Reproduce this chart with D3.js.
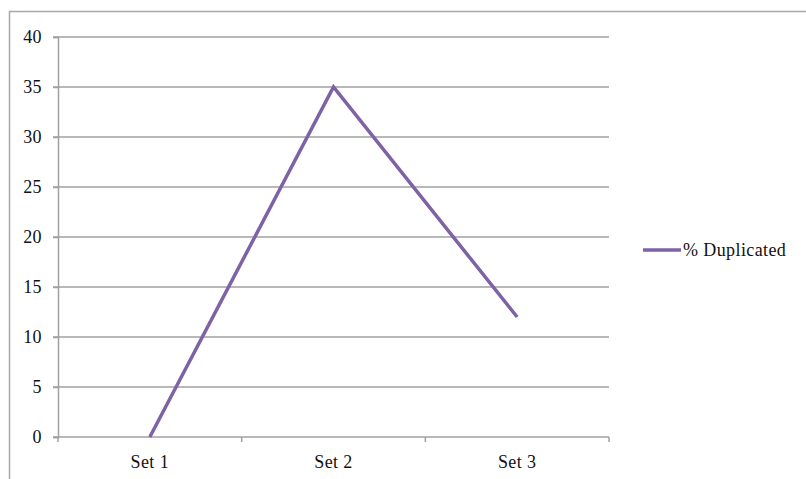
<!DOCTYPE html>
<html>
<head>
<meta charset="utf-8">
<script src="https://cdn.jsdelivr.net/npm/d3@7"></script>
<style>
  html, body { margin: 0; padding: 0; background: #fff; }
  svg { display: block; }
  text { font-family: "Liberation Serif", "DejaVu Serif", serif; fill: #111; letter-spacing: 0.4px; }
</style>
</head>
<body>
<svg id="chart" width="806" height="479"></svg>
<script>
// Series and axis definitions
const categories = ["Set 1", "Set 2", "Set 3"];
const duplicatedPct = [0, 35, 12];
const seriesName = "% Duplicated";
const yTicks = [0, 5, 10, 15, 20, 25, 30, 35, 40];

const svg = d3.select("#chart");
const W = 806, H = 479;
const margin = { left: 58, right: 197, top: 37, bottom: 42 };
const plotW = W - margin.left - margin.right;
const plotH = H - margin.top - margin.bottom;

const gridColor = "#a0a0a0";
const lineColor = "#7e62a6";
const fontSize = "18px";

// Outer frame
svg.append("rect")
  .attr("x", 9.5).attr("y", 11.5)
  .attr("width", W + 10).attr("height", H + 10)
  .attr("fill", "none").attr("stroke", "#a8a8a8").attr("stroke-width", 1.5);

const g = svg.append("g").attr("transform", `translate(${margin.left},${margin.top})`);

const x = d3.scaleBand().domain(categories).range([0, plotW]);
const y = d3.scaleLinear().domain([0, 40]).range([plotH, 0]);

// Horizontal gridlines
g.append("g").selectAll("line").data(yTicks.filter(d => d > 0)).join("line")
  .attr("x1", -5).attr("x2", plotW)
  .attr("y1", d => y(d)).attr("y2", d => y(d))
  .attr("stroke", gridColor).attr("stroke-width", 1.5);

// Y axis
const yAxis = g.append("g")
  .call(d3.axisLeft(y).tickValues(yTicks).tickSize(5).tickPadding(11));
yAxis.select(".domain").attr("stroke", gridColor).attr("stroke-width", 1.5);
yAxis.selectAll(".tick line").attr("stroke", gridColor).attr("stroke-width", 1.5);
yAxis.selectAll("text").style("font-size", fontSize).attr("fill", "#111")
  .attr("font-family", null);

// X axis with ticks at band boundaries
const xAxisG = g.append("g").attr("transform", `translate(0,${plotH})`);
xAxisG.append("line")
  .attr("x1", -5).attr("x2", plotW)
  .attr("stroke", gridColor).attr("stroke-width", 1.5);
const bounds = categories.map(c => x(c)).concat([plotW]);
xAxisG.selectAll("line.tk").data(bounds).join("line").attr("class", "tk")
  .attr("x1", d => d).attr("x2", d => d).attr("y1", 0).attr("y2", 5)
  .attr("stroke", gridColor).attr("stroke-width", 1.5);
xAxisG.selectAll("text").data(categories).join("text")
  .attr("x", d => x(d) + x.bandwidth() / 2)
  .attr("y", 31)
  .attr("text-anchor", "middle")
  .style("font-size", fontSize)
  .text(d => d);

// Series line
const line = d3.line()
  .x((d, i) => x(categories[i]) + x.bandwidth() / 2)
  .y(d => y(d));
g.append("path").datum(duplicatedPct)
  .attr("d", line)
  .attr("fill", "none")
  .attr("stroke", lineColor)
  .attr("stroke-width", 3.5)
  .attr("stroke-linejoin", "miter");

// Legend
const lg = svg.append("g").attr("transform", "translate(643,250)");
lg.append("line").attr("x1", 0).attr("x2", 38).attr("y1", 0).attr("y2", 0)
  .attr("stroke", lineColor).attr("stroke-width", 3.5);
lg.append("text").attr("x", 40).attr("y", 6).style("font-size", fontSize).text(seriesName);
</script>
</body>
</html>
